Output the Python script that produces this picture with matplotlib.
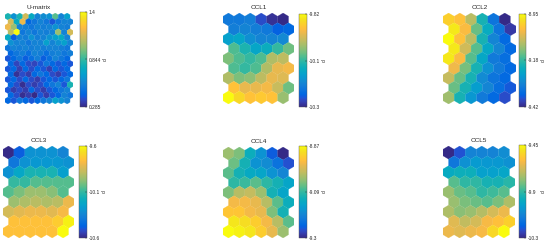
import numpy as np
import matplotlib
matplotlib.use('Agg')
import matplotlib.pyplot as plt
from matplotlib.collections import PolyCollection
from matplotlib.colors import LinearSegmentedColormap, Normalize

plt.rcParams['font.family'] = ['Liberation Sans', 'DejaVu Sans']

# MATLAB parula (64 entries)
parula = [
    (0.2081, 0.1663, 0.5292), (0.2116, 0.1898, 0.5777), (0.2123, 0.2138, 0.6270),
    (0.2081, 0.2386, 0.6771), (0.1959, 0.2645, 0.7279), (0.1707, 0.2919, 0.7792),
    (0.1253, 0.3242, 0.8303), (0.0591, 0.3598, 0.8683), (0.0117, 0.3875, 0.8820),
    (0.0060, 0.4086, 0.8828), (0.0165, 0.4266, 0.8786), (0.0329, 0.4430, 0.8720),
    (0.0498, 0.4586, 0.8641), (0.0629, 0.4737, 0.8554), (0.0723, 0.4887, 0.8467),
    (0.0779, 0.5040, 0.8384), (0.0793, 0.5200, 0.8312), (0.0749, 0.5375, 0.8263),
    (0.0641, 0.5570, 0.8240), (0.0488, 0.5772, 0.8228), (0.0343, 0.5966, 0.8199),
    (0.0265, 0.6137, 0.8135), (0.0239, 0.6287, 0.8038), (0.0231, 0.6418, 0.7913),
    (0.0228, 0.6535, 0.7768), (0.0267, 0.6642, 0.7607), (0.0384, 0.6743, 0.7436),
    (0.0590, 0.6838, 0.7254), (0.0843, 0.6928, 0.7062), (0.1133, 0.7015, 0.6859),
    (0.1453, 0.7098, 0.6646), (0.1801, 0.7177, 0.6424), (0.2178, 0.7250, 0.6193),
    (0.2586, 0.7317, 0.5954), (0.3022, 0.7376, 0.5712), (0.3482, 0.7424, 0.5473),
    (0.3953, 0.7459, 0.5244), (0.4420, 0.7481, 0.5033), (0.4871, 0.7491, 0.4840),
    (0.5300, 0.7491, 0.4661), (0.5709, 0.7485, 0.4494), (0.6099, 0.7473, 0.4337),
    (0.6473, 0.7456, 0.4188), (0.6834, 0.7435, 0.4044), (0.7184, 0.7411, 0.3905),
    (0.7525, 0.7384, 0.3768), (0.7858, 0.7356, 0.3633), (0.8185, 0.7327, 0.3498),
    (0.8507, 0.7299, 0.3360), (0.8824, 0.7274, 0.3217), (0.9139, 0.7258, 0.3063),
    (0.9450, 0.7261, 0.2886), (0.9739, 0.7314, 0.2666), (0.9938, 0.7455, 0.2403),
    (0.9990, 0.7653, 0.2164), (0.9955, 0.7861, 0.1967), (0.9880, 0.8066, 0.1794),
    (0.9789, 0.8271, 0.1633), (0.9697, 0.8481, 0.1475), (0.9626, 0.8705, 0.1309),
    (0.9589, 0.8949, 0.1132), (0.9598, 0.9218, 0.0948), (0.9661, 0.9514, 0.0755),
    (0.9763, 0.9831, 0.0538)]
cmap = LinearSegmentedColormap.from_list('parula', parula, N=256)

titles = ['U-matrix', 'CCL1', 'CCL2', 'CCL3', 'CCL4', 'CCL5']

umatrix = [
    [0.79, 0.62, 0.79, 1.12, 0.73, 0.56, 0.60, 0.62, 0.90, 0.56, 0.68],
    [1.12, 0.73, 1.18, 0.45, 0.51, 0.56, 0.51, 0.40, 0.51, 0.56, 0.56],
    [1.18, 1.01, 0.56, 0.54, 0.51, 0.56, 0.54, 0.56, 0.62, 0.56, 0.54],
    [1.07, 1.40, 0.51, 0.56, 0.51, 0.56, 0.54, 0.56, 1.01, 0.56, 1.12],
    [0.73, 0.42, 0.56, 0.54, 0.62, 0.54, 0.56, 0.62, 0.68, 0.73, 0.56],
    [0.62, 0.56, 0.56, 0.51, 0.56, 0.56, 0.68, 0.56, 0.62, 0.68, 0.56],
    [0.51, 0.56, 0.54, 0.56, 0.54, 0.56, 0.54, 0.56, 0.56, 0.54, 0.51],
    [0.45, 0.51, 0.54, 0.48, 0.56, 0.54, 0.48, 0.54, 0.56, 0.51, 0.54],
    [0.40, 0.45, 0.51, 0.42, 0.48, 0.54, 0.42, 0.48, 0.56, 0.51, 0.45],
    [0.45, 0.36, 0.45, 0.38, 0.36, 0.40, 0.51, 0.45, 0.40, 0.45, 0.40],
    [0.40, 0.45, 0.35, 0.45, 0.38, 0.45, 0.40, 0.35, 0.45, 0.40, 0.45],
    [0.45, 0.31, 0.38, 0.34, 0.45, 0.51, 0.45, 0.38, 0.34, 0.40, 0.45],
    [0.40, 0.45, 0.38, 0.45, 0.38, 0.34, 0.40, 0.45, 0.40, 0.45, 0.51],
    [0.45, 0.38, 0.30, 0.38, 0.34, 0.38, 0.45, 0.51, 0.56, 0.40, 0.79],
    [0.40, 0.34, 0.38, 0.34, 0.45, 0.38, 0.34, 0.40, 0.45, 0.51, 0.56],
    [0.45, 0.38, 0.30, 0.34, 0.285, 0.40, 0.34, 0.40, 0.45, 0.56, 0.51],
    [0.45, 0.40, 0.51, 0.45, 0.40, 0.45, 0.51, 0.56, 0.68, 0.62, 0.56],
]

ccl1 = [
    [-10.20, -10.20, -10.19, -10.26, -10.29, -10.30],
    [-10.19, -10.18, -10.19, -10.20, -10.24, -10.23],
    [-10.13, -10.12, -10.16, -10.18, -10.18, -10.17],
    [-10.04, -10.08, -10.12, -10.10, -10.06, -10.02],
    [-10.01, -10.04, -10.06, -10.04, -9.97, -9.96],
    [-10.04, -10.06, -10.04, -9.97, -9.92, -9.91],
    [-9.97, -10.01, -10.00, -9.96, -9.92, -9.93],
    [-9.89, -9.92, -9.92, -9.91, -9.95, -10.02],
    [-9.82, -9.86, -9.89, -9.88, -9.89, -9.99],
]

ccl2 = [
    [-9.00, -9.02, -9.09, -9.21, -9.33, -9.42],
    [-8.97, -9.03, -9.15, -9.23, -9.33, -9.40],
    [-8.95, -9.02, -9.09, -9.21, -9.30, -9.35],
    [-8.97, -9.07, -9.16, -9.24, -9.30, -9.35],
    [-8.97, -9.03, -9.16, -9.24, -9.32, -9.34],
    [-9.04, -9.14, -9.21, -9.28, -9.32, -9.35],
    [-9.08, -9.15, -9.21, -9.29, -9.33, -9.35],
    [-9.15, -9.21, -9.26, -9.30, -9.34, -9.37],
    [-9.11, -9.21, -9.27, -9.32, -9.35, -9.38],
]

ccl3 = [
    [-10.60, -10.48, -10.30, -10.30, -10.30, -10.35],
    [-10.40, -10.30, -10.28, -10.28, -10.28, -10.30],
    [-10.30, -10.22, -10.15, -10.15, -10.15, -10.25],
    [-10.10, -10.10, -10.05, -10.05, -10.05, -10.05],
    [-10.05, -10.00, -9.95, -9.95, -9.98, -10.05],
    [-9.95, -9.92, -9.90, -9.92, -9.90, -9.80],
    [-9.85, -9.82, -9.80, -9.80, -9.82, -9.78],
    [-9.75, -9.75, -9.75, -9.75, -9.72, -9.62],
    [-9.75, -9.75, -9.75, -9.75, -9.75, -9.60],
]

ccl4 = [
    [-9.02, -9.04, -9.12, -9.17, -9.25, -9.30],
    [-9.05, -9.11, -9.17, -9.18, -9.22, -9.26],
    [-9.06, -9.11, -9.13, -9.14, -9.17, -9.19],
    [-9.09, -9.08, -9.06, -9.09, -9.11, -9.14],
    [-9.04, -9.00, -8.99, -9.02, -9.11, -9.14],
    [-8.95, -8.95, -8.96, -9.00, -9.06, -9.12],
    [-8.93, -8.93, -8.95, -8.96, -9.04, -9.11],
    [-8.89, -8.90, -8.92, -8.95, -9.00, -9.06],
    [-8.87, -8.88, -8.89, -8.92, -8.96, -9.02],
]

ccl5 = [
    [-10.30, -10.22, -10.09, -10.09, -10.09, -10.06],
    [-10.13, -10.05, -10.02, -10.03, -10.03, -10.05],
    [-9.96, -9.94, -9.94, -10.00, -10.00, -9.98],
    [-9.83, -9.88, -9.88, -9.92, -9.92, -9.89],
    [-9.75, -9.81, -9.83, -9.88, -9.86, -9.83],
    [-9.75, -9.79, -9.81, -9.83, -9.79, -9.72],
    [-9.72, -9.77, -9.75, -9.71, -9.66, -9.62],
    [-9.64, -9.69, -9.66, -9.60, -9.58, -9.54],
    [-9.62, -9.64, -9.62, -9.60, -9.52, -9.45],
]

tick_labels = [
    ['0.285', '0.844', '1.4'],
    ['-10.3', '-10.1', '-9.82'],
    ['-9.42', '-9.18', '-8.95'],
    ['-10.6', '-10.1', '-9.6'],
    ['-9.3', '-9.09', '-8.87'],
    ['-10.3', '-9.9', '-9.45'],
]

datasets = [umatrix, ccl1, ccl2, ccl3, ccl4, ccl5]

# layout in pixels: (left, top, width, height)
hex_boxes = [(5, 13, 68, 91), (223, 13, 71, 91), (443, 13, 73, 91),
             (3, 146, 71, 92), (223, 147, 71, 91), (443, 146, 72, 92)]
cbar_boxes = [(80, 12, 7, 95), (299, 14, 8, 93), (519, 14, 7, 93),
              (79, 146, 8, 92), (299, 146, 8, 92), (519, 145, 7, 93)]

W, H = 550, 245
fig = plt.figure(figsize=(5.5, 2.45), dpi=100)
fig.patch.set_facecolor('white')
TXT = '#262626'


def px(box):
    l, t, w, h = box
    return [l / W, 1 - (t + h) / H, w / W, h / H]


def hex_polys(nrows, ncols):
    r = 1 / np.sqrt(3)
    ang = np.deg2rad(np.arange(30, 390, 60))
    dx, dy = r * np.cos(ang), r * np.sin(ang)
    polys = []
    for i in range(nrows):
        for j in range(ncols):
            cx = j + 0.5 * (i % 2)
            cy = -i * np.sqrt(3) / 2
            polys.append(np.column_stack([cx + dx, cy + dy]))
    return polys, r


for k, data in enumerate(datasets):
    vals = np.array(data, dtype=float)
    nr, nc = vals.shape
    polys, r = hex_polys(nr, nc)
    vmin, vmax = vals.min(), vals.max()
    ax = fig.add_axes(px(hex_boxes[k]))
    pc = PolyCollection(polys, array=vals.ravel(), cmap=cmap,
                        norm=Normalize(vmin, vmax), edgecolors='face',
                        linewidths=0.15)
    ax.add_collection(pc)
    ax.set_xlim(-0.5, nc)
    ax.set_ylim(-(nr - 1) * np.sqrt(3) / 2 - r, r)
    ax.axis('off')
    ax.set_title(titles[k], fontsize=4.6, color=TXT, pad=3)

    cax = fig.add_axes(px(cbar_boxes[k]))
    cb = fig.colorbar(pc, cax=cax)
    cb.set_ticks([vmin, (vmin + vmax) / 2, vmax])
    cb.set_ticklabels(tick_labels[k])
    cb.outline.set_linewidth(0.3)
    cb.outline.set_edgecolor('#555555')
    cax.tick_params(labelsize=3.5, length=1.2, width=0.3, pad=1.2,
                    direction='in', colors=TXT)
    cax.set_ylabel('d', fontsize=3.5, color=TXT, labelpad=1.5)

fig.savefig('out.png', dpi=100, facecolor='white')
